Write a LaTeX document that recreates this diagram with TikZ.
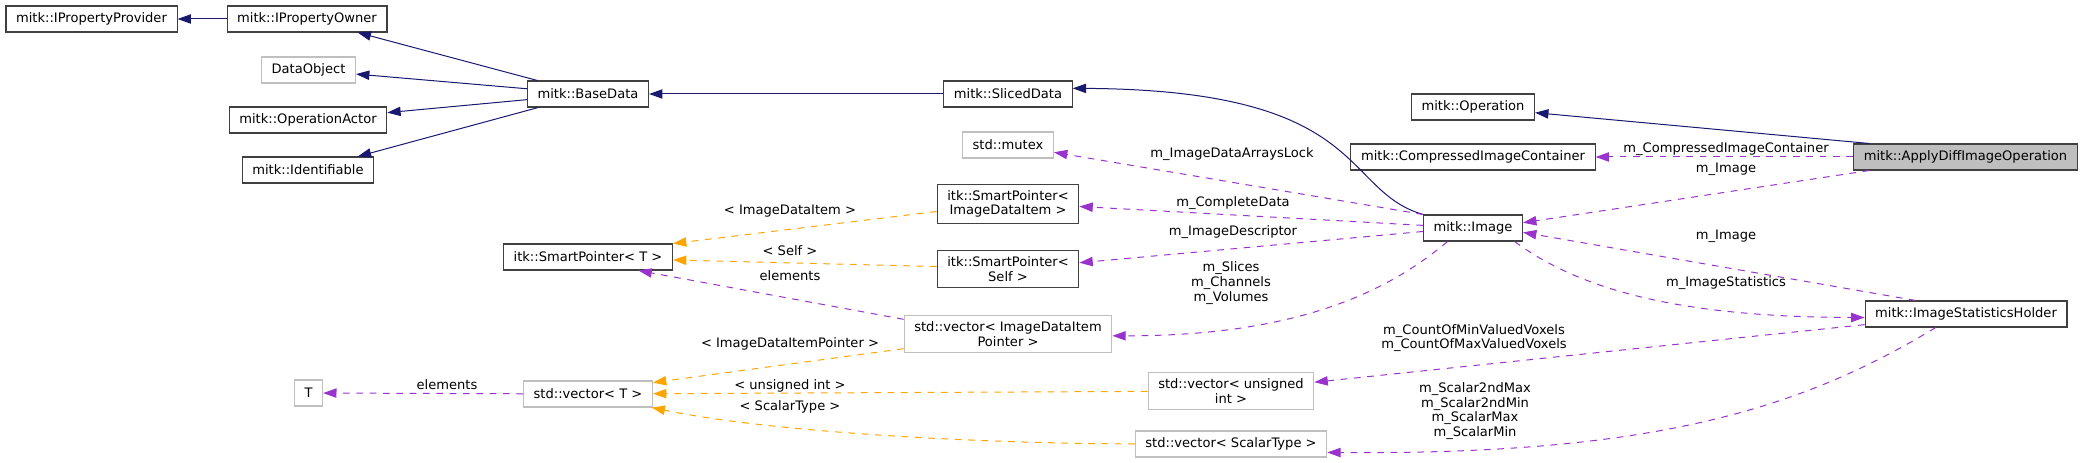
\documentclass[tikz,border=0pt]{standalone}
\usepackage{fontspec}
\setmainfont{DejaVu Sans}
\usepackage{tikz}
\usetikzlibrary{arrows.meta}

\definecolor{midblue}{HTML}{191970}
\definecolor{orchid}{HTML}{9A32CD}
\definecolor{tplorange}{HTML}{FFA500}
\definecolor{grey75}{HTML}{BFBFBF}
\definecolor{grey25}{HTML}{404040}

\tikzset{
  dgfont/.style={font=\fontsize{9.8}{11}\selectfont},
  cls/.style={draw=grey25, line width=0.8pt, fill=white, inner xsep=7.6pt, inner ysep=4.6pt, minimum height=19.5pt, align=center, dgfont},
  ext/.style={cls, draw=grey75},
  cur/.style={cls, fill=grey75},
  tip/.style={-{Triangle[length=10pt,width=7pt]}},
  inh/.style={tip, draw=midblue, line width=0.75pt},
  use/.style={tip, draw=orchid, line width=0.75pt, dash pattern=on 5pt off 5pt},
  tpl/.style={tip, draw=tplorange, line width=0.75pt, dash pattern=on 5pt off 5pt},
  lbl/.style={inner sep=0.75pt, align=center, dgfont}
}

\begin{document}
\begin{tikzpicture}[x=0.75pt,y=0.75pt,yscale=-1,xscale=1]
\useasboundingbox (0,0) rectangle (2084,463);

%Classes
\node[cls] (provider) at (91.5,19) {mitk::IPropertyProvider};
\node[cls] (owner) at (307,19) {mitk::IPropertyOwner};
\node[ext] (dataobj) at (308.5,70) {DataObject};
\node[cls] (opactor) at (308,120) {mitk::OperationActor};
\node[cls] (ident) at (308,170) {mitk::Identifiable};
\node[cls] (basedata) at (588,94) {mitk::BaseData};
\node[cls] (spT) at (588,257) {itk::SmartPointer< T >};
\node[ext] (vecT) at (588,394) {std::vector< T >};
\node[ext] (T) at (308.5,393) {T};
\node[cls] (sliced) at (1008,94) {mitk::SlicedData};
\node[ext] (mutex) at (1008,145) {std::mutex};
\node[cls] (spidi) at (1008,204) {itk::SmartPointer<\\ImageDataItem >};
\node[cls] (spself) at (1008,269) {itk::SmartPointer<\\Self >};
\node[ext] (vecidip) at (1008,334) {std::vector< ImageDataItem\\Pointer >};
\node[ext] (vecuint) at (1231,391) {std::vector< unsigned\\int >};
\node[ext] (vecscalar) at (1231,444) {std::vector< ScalarType >};
\node[cls] (operation) at (1473,107) {mitk::Operation};
\node[cls] (container) at (1473,157) {mitk::CompressedImageContainer};
\node[cls] (image) at (1473,228) {mitk::Image};
\node[cur] (apply) at (1965.5,157) {mitk::ApplyDiffImageOperation};
\node[cls] (ish) at (1966,314) {mitk::ImageStatisticsHolder};

%Inheritance
\draw[inh] (owner) -- (provider);
\draw[inh] (basedata) -- (owner);
\draw[inh] (basedata) -- (dataobj);
\draw[inh] (basedata) -- (opactor);
\draw[inh] (basedata) -- (ident);
\draw[inh] (sliced) -- (basedata);
\draw[inh] (image.north west) .. controls (1340,190) and (1370,90) .. (sliced.5);
\draw[inh] (apply.172) -- (operation);

%Members
\draw[use] (apply) -- (container);
\draw[use] (apply.188) -- (image.6);
\draw[use] (ish.165) -- (image.-5);
\draw[use] (image.-18) .. controls (1580,290) and (1680,317) .. (ish.182);
\draw[use] (image.north west) -- (mutex.-9);
\draw[use] (image.177) -- (spidi.-2);
\draw[use] (image.184) -- (spself.5);
\draw[use] (image.208) .. controls (1390,290) and (1300,336) .. (vecidip.-1);
\draw[use] (vecidip.172) -- (spT.-15);
\draw[use] (vecT) -- (T);
\draw[use] (ish.186) -- (vecuint.6);
\draw[use] (ish.204) .. controls (1800,410) and (1650,455) .. (vecscalar.-5);

%Templates
\draw[tpl] (spidi.186) -- (spT.9);
\draw[tpl] (spself.178) -- (spT.-2);
\draw[tpl] (vecidip.188) -- (vecT.10);
\draw[tpl] (vecuint) -- (vecT);
\draw[tpl] (vecscalar.west) .. controls (950,443) and (760,430) .. (vecT.-12);

% Text Node
\node[lbl] (lLock) at (1232,154) {m\_ImageDataArraysLock};
\node[lbl] (lComplete) at (1233,203) {m\_CompleteData};
\node[lbl] (lDescr) at (1233,232) {m\_ImageDescriptor};
\node[lbl] (lSlices) at (1231,283) {m\_Slices\\m\_Channels\\m\_Volumes};
\node[lbl] (lIDI) at (790,211) {< ImageDataItem >};
\node[lbl] (lSelf) at (790,251) {< Self >};
\node[lbl] (lElemA) at (790,276) {elements};
\node[lbl] (lIDIP) at (790,344) {< ImageDataItemPointer >};
\node[lbl] (lUint) at (790,386) {< unsigned int >};
\node[lbl] (lScalarT) at (790,407) {< ScalarType >};
\node[lbl] (lElemB) at (447,385) {elements};
\node[lbl] (lCont) at (1726,149) {m\_CompressedImageContainer};
\node[lbl] (lImgA) at (1726,169) {m\_Image};
\node[lbl] (lImgB) at (1726,236) {m\_Image};
\node[lbl] (lStats) at (1726,283) {m\_ImageStatistics};
\node[lbl] (lCount) at (1474,338) {m\_CountOfMinValuedVoxels\\m\_CountOfMaxValuedVoxels};
\node[lbl] (lScalar) at (1475,411) {m\_Scalar2ndMax\\m\_Scalar2ndMin\\m\_ScalarMax\\m\_ScalarMin};

\end{tikzpicture}
\end{document}
